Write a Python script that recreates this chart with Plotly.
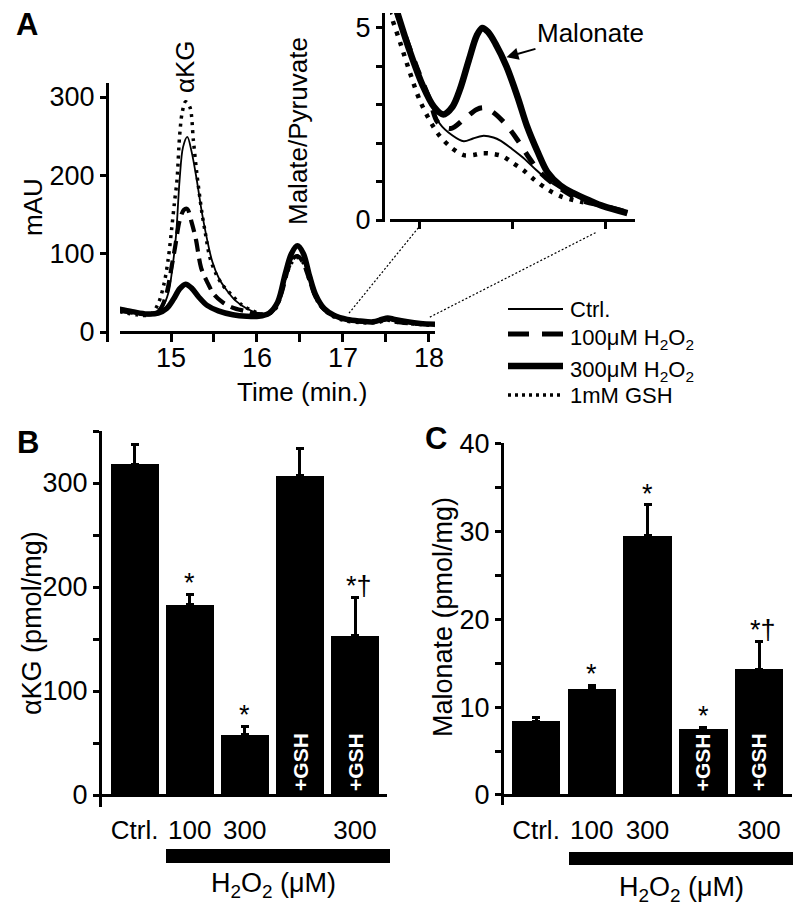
import plotly.graph_objects as go

W, H = 800, 910
FONT = "Liberation Sans, Arial, sans-serif"

# ---------------- Panel A: chromatogram (mAU vs time, min) ----------------
t_ctrl = [14.40, 14.60, 14.78, 14.90, 14.97, 15.02, 15.06, 15.10, 15.14, 15.19, 15.24, 15.30, 15.36,
          15.42, 15.48, 15.56, 15.65, 15.75, 15.88, 16.02, 16.15, 16.27, 16.36, 16.42, 16.47, 16.53,
          16.60, 16.68, 16.78, 16.90, 17.05, 17.25, 17.42, 17.52, 17.62, 17.80, 18.07]
v_ctrl = [27, 24, 24, 32, 50, 85, 125, 194, 236, 249, 230, 194, 152,
          118, 90, 68, 53, 40, 30, 24, 25, 45, 80, 95, 98, 92,
          72, 46, 30, 21, 16, 13, 14, 16, 13, 11, 9]

t_h100 = [14.40, 14.60, 14.78, 14.88, 14.95, 15.01, 15.05, 15.10, 15.15, 15.19, 15.24, 15.29, 15.35,
          15.42, 15.50, 15.60, 15.72, 15.85, 16.00, 16.15, 16.27, 16.36, 16.42, 16.47, 16.53, 16.60,
          16.68, 16.78, 16.90, 17.05, 17.25, 17.42, 17.52, 17.62, 17.80, 18.07]
v_h100 = [27, 24, 23, 30, 50, 85, 110, 142, 156, 157, 140, 118, 82,
          64, 48, 38, 31, 27, 23, 24, 45, 80, 94, 97, 90, 70,
          45, 29, 21, 16, 13, 14, 16, 13, 11, 9]

t_h300 = [14.40, 14.55, 14.72, 14.85, 14.95, 15.03, 15.10, 15.17, 15.24, 15.32, 15.42, 15.55, 15.72,
          15.88, 16.02, 16.14, 16.24, 16.33, 16.40, 16.47, 16.54, 16.61, 16.68, 16.78, 16.90, 17.05,
          17.20, 17.35, 17.45, 17.52, 17.60, 17.75, 17.90, 18.07]
v_h300 = [29, 26, 23, 24, 30, 42, 55, 61, 56, 45, 34, 27, 22,
          20, 20, 24, 38, 75, 100, 110, 100, 72, 48, 30, 21, 16,
          14, 13, 16, 18, 16, 13, 11, 10]

t_gsh = [14.40, 14.60, 14.76, 14.85, 14.92, 14.97, 15.01, 15.04, 15.07, 15.10, 15.13, 15.17, 15.22,
         15.26, 15.30, 15.36, 15.40, 15.45, 15.52, 15.60, 15.70, 15.82, 15.95, 16.10, 16.22, 16.32,
         16.40, 16.47, 16.54, 16.62, 16.72, 16.85, 17.00, 17.20, 17.40, 17.52, 17.65, 17.85, 18.07]
v_gsh = [26, 22, 22, 36, 62, 95, 134, 165, 194, 250, 280, 294, 287,
         245, 203, 152, 126, 96, 75, 60, 48, 35, 27, 22, 30, 65,
         88, 95, 88, 62, 36, 22, 15, 12, 12, 15, 12, 10, 8]

# Inset (zoom of the malonate region)
ti_ctrl = [16.88, 16.99, 17.06, 17.11, 17.18, 17.24, 17.29, 17.34, 17.40, 17.44, 17.50, 17.56,
           17.63, 17.69, 17.76, 17.83, 17.92, 18.00, 18.12]
vi_ctrl = [5.40, 3.95, 3.10, 2.52, 2.20, 2.05, 2.12, 2.19, 2.15, 2.06, 1.85, 1.62,
           1.30, 1.05, 0.82, 0.65, 0.48, 0.36, 0.20]

ti_h100 = [16.88, 16.99, 17.06, 17.10, 17.17, 17.24, 17.31, 17.35, 17.40, 17.47, 17.53, 17.60,
           17.66, 17.75, 17.87, 18.00, 18.12]
vi_h100 = [5.40, 3.95, 3.10, 2.55, 2.38, 2.62, 2.88, 2.92, 2.80, 2.47, 2.08, 1.56,
           1.20, 0.85, 0.52, 0.36, 0.20]

ti_h300 = [16.88, 16.95, 17.02, 17.08, 17.13, 17.18, 17.22, 17.27, 17.31, 17.34, 17.37, 17.41,
           17.47, 17.53, 17.58, 17.64, 17.69, 17.76, 17.83, 17.92, 17.99, 18.12]
vi_h300 = [5.45, 4.40, 3.50, 2.95, 2.75, 2.95, 3.40, 4.20, 4.80, 5.00, 4.90, 4.60,
           4.00, 3.20, 2.45, 1.75, 1.25, 0.90, 0.70, 0.50, 0.36, 0.18]

ti_gsh = [16.84, 16.90, 16.94, 17.01, 17.10, 17.17, 17.24, 17.30, 17.34, 17.40, 17.45, 17.50,
          17.56, 17.62, 17.69, 17.76, 17.83, 17.92]
vi_gsh = [5.45, 4.60, 4.00, 3.05, 2.26, 1.90, 1.69, 1.70, 1.74, 1.72, 1.66, 1.50,
          1.30, 1.05, 0.80, 0.62, 0.52, 0.42]

legend_labels = ["Ctrl.", "100μM H<sub>2</sub>O<sub>2</sub>", "300μM H<sub>2</sub>O<sub>2</sub>", "1mM GSH"]

# ---------------- Panel B / C: bar charts ----------------
bar_pos = [0, 1, 2, 3, 4]
label_pos = [0, 1, 2, 4]
label_text = ["Ctrl.", "100", "300", "300"]
akg_vals = [318, 183, 58, 307, 153]
akg_err_top = [337, 193, 66, 333, 190]
akg_sig = ["", "*", "*", "", "*†"]

mal_vals = [8.4, 12.1, 29.5, 7.5, 14.3]
mal_err_top = [8.8, 12.5, 33.0, 7.7, 17.5]
mal_sig = ["", "*", "*", "*", "*†"]
gsh_bars = [3, 4]


def fx(p):
    return p / W


def fy(p):
    return 1 - p / H


# axis geometry (pixel boxes)
A_X = dict(dom=(120, 435), rng=(14.407, 18.07))
A_Y = dict(dom=(342, 83), rng=(-12.77, 317.9))
I_X = dict(dom=(390, 635), rng=(16.844, 18.161))
I_Y = dict(dom=(222, 13), rng=(-0.052, 5.39))


def to_px(ax, v):
    (d0, d1), (r0, r1) = ax["dom"], ax["rng"]
    return d0 + (v - r0) / (r1 - r0) * (d1 - d0)


fig = go.Figure()

styles = {
    "gsh": dict(color="black", width=3.5, dash="3px,5px"),
    "ctrl": dict(color="black", width=1.8),
    "h100": dict(color="black", width=4.2, dash="13px,7px"),
    "h300": dict(color="black", width=5.5),
}
istyles = {
    "gsh": dict(color="black", width=4.5, dash="4px,7px"),
    "ctrl": dict(color="black", width=2),
    "h100": dict(color="black", width=5, dash="14px,12px"),
    "h300": dict(color="black", width=6.5),
}

for key, tx, vy in [("gsh", t_gsh, v_gsh), ("ctrl", t_ctrl, v_ctrl), ("h100", t_h100, v_h100), ("h300", t_h300, v_h300)]:
    fig.add_trace(go.Scatter(x=tx, y=vy, mode="lines", xaxis="x", yaxis="y",
                             line=dict(shape="spline", smoothing=0.9, **styles[key]), hoverinfo="skip"))

for key, tx, vy in [("gsh", ti_gsh, vi_gsh), ("ctrl", ti_ctrl, vi_ctrl), ("h100", ti_h100, vi_h100), ("h300", ti_h300, vi_h300)]:
    fig.add_trace(go.Scatter(x=tx, y=vy, mode="lines", xaxis="x2", yaxis="y2",
                             line=dict(shape="spline", smoothing=0.9, **istyles[key]), hoverinfo="skip"))

# bars
for xa, ya, vals, tops in [("x3", "y3", akg_vals, akg_err_top), ("x4", "y4", mal_vals, mal_err_top)]:
    fig.add_trace(go.Bar(x=bar_pos, y=vals, width=0.87, xaxis=xa, yaxis=ya,
                         marker=dict(color="black", line=dict(width=0)),
                         error_y=dict(type="data", symmetric=False,
                                      array=[t - v for t, v in zip(tops, vals)],
                                      arrayminus=[0] * len(vals),
                                      color="black", thickness=3, width=4)))

tick_font = dict(family=FONT, size=27, color="black")
common = dict(showline=True, linecolor="black", linewidth=3, showgrid=False, zeroline=False,
              tickcolor="black", tickwidth=3, tickfont=tick_font, automargin=False, fixedrange=True)


def minor(vals, ln):
    return dict(tickmode="array", tickvals=vals, ticks="outside", ticklen=ln, tickwidth=3,
                tickcolor="black", showgrid=False)


cat_axis = {**common, "tickcolor": "rgba(0,0,0,0)", "tickfont": dict(family=FONT, size=26, color="black")}

layout = dict(
    width=W, height=H, margin=dict(l=0, r=0, t=0, b=0),
    paper_bgcolor="white", plot_bgcolor="white", showlegend=False,
    font=dict(family=FONT, color="black"), bargap=0,
    xaxis=dict(domain=[fx(A_X["dom"][0]), fx(A_X["dom"][1])], range=list(A_X["rng"]),
               anchor="free", position=fy(to_px(A_Y, 0)), ticks="outside", ticklen=8,
               tickvals=[15, 16, 17, 18], minor=minor([15.5, 16.5, 17.5], 8),
               ticklabelstandoff=-7, **common),
    yaxis=dict(domain=[fy(A_Y["dom"][0]), fy(A_Y["dom"][1])], range=list(A_Y["rng"]),
               anchor="free", position=fx(107), ticks="outside", ticklen=6,
               tickvals=[0, 100, 200, 300], **common),
    xaxis2=dict(domain=[fx(I_X["dom"][0]), fx(I_X["dom"][1])], range=list(I_X["rng"]),
                anchor="free", position=fy(to_px(I_Y, 0)), ticks="outside", ticklen=7,
                tickvals=[17, 17.5, 18], showticklabels=False, **common),
    yaxis2=dict(domain=[fy(I_Y["dom"][0]), fy(I_Y["dom"][1])], range=list(I_Y["rng"]),
                anchor="free", position=fx(383), ticks="outside", ticklen=6,
                tickvals=[0, 5], minor=minor([1, 2, 3, 4], 6), **common),
    xaxis3=dict(domain=[fx(100), fx(387)], range=[-0.627, 4.58], anchor="free", position=fy(795),
                ticks="outside", ticklen=11, tickvals=label_pos, ticktext=label_text, **cat_axis),
    yaxis3=dict(domain=[fy(807), fy(431)], range=[-11.5, 350], anchor="free", position=fx(100),
                ticks="outside", ticklen=6, tickvals=[0, 100, 200, 300],
                minor=minor([50, 150, 250, 350], 6), **common),
    xaxis4=dict(domain=[fx(502), fx(792)], range=[-0.61, 4.59], anchor="free", position=fy(795),
                ticks="outside", ticklen=11, tickvals=label_pos, ticktext=label_text, **cat_axis),
    yaxis4=dict(domain=[fy(805), fy(443)], range=[-1.14, 40.05], anchor="free", position=fx(502),
                ticks="outside", ticklen=6, tickvals=[0, 10, 20, 30, 40],
                minor=minor([5, 15, 25, 35], 6), **common),
)
fig.update_layout(**layout)

ann = []
shapes = []


def txt(x, y, s, size=26, angle=0, bold=False, color="black", xanchor="center", yanchor="middle"):
    ann.append(dict(x=fx(x), y=fy(y), xref="paper", yref="paper", text=(f"<b>{s}</b>" if bold else s),
                    showarrow=False, textangle=angle, xanchor=xanchor, yanchor=yanchor,
                    font=dict(family=FONT, size=size, color=color)))


# panel letters
txt(27, 24, "A", size=31, bold=True)
txt(28, 442, "B", size=31, bold=True)
txt(436, 438, "C", size=31, bold=True)

# panel A texts
txt(33, 207, "mAU", size=26, angle=-90)
txt(302, 392, "Time (min.)", size=26)
txt(185, 67, "αKG", size=26, angle=-90)
txt(298, 131, "Malate/Pyruvate", size=26, angle=-90)

ann.append(dict(x=17.47, y=4.24, xref="x2", yref="y2", text="Malonate", showarrow=True,
                ax=84, ay=-24, arrowhead=2, arrowsize=1.2, arrowwidth=2, arrowcolor="black",
                font=dict(family=FONT, size=26, color="black")))

# connector lines main -> inset
for (tm, vm), (ti, vi) in [((17.07, 24), (17.0, -0.18)), ((18.01, 19), (17.957, -0.31))]:
    shapes.append(dict(type="line", xref="paper", yref="paper",
                       x0=fx(to_px(A_X, tm)), y0=fy(to_px(A_Y, vm)),
                       x1=fx(to_px(I_X, ti)), y1=fy(to_px(I_Y, vi)),
                       line=dict(color="black", width=1.2, dash="2px,2px")))

# legend
leg_y = [309, 334, 366, 395]
leg_styles = [dict(color="black", width=1.8), dict(color="black", width=5, dash="21px,13px"),
              dict(color="black", width=6.5), dict(color="black", width=3.5, dash="3px,4px")]
for yy, lab, st in zip(leg_y, legend_labels, leg_styles):
    shapes.append(dict(type="line", xref="paper", yref="paper", x0=fx(508), x1=fx(563),
                       y0=fy(yy), y1=fy(yy), line=st))
    if "sub" in lab:
        ann.append(dict(x=fx(568), y=fy(yy - 11), xref="paper", yref="paper", text=lab, showarrow=False,
                        xanchor="left", yanchor="top", font=dict(family=FONT, size=22, color="black")))
    else:
        txt(568, yy, lab, size=22, xanchor="left")

# panel B / C texts
txt(32, 623, "αKG (pmol/mg)", size=27, angle=-90)
txt(443, 617, "Malonate (pmol/mg)", size=27, angle=-90)
txt(273, 885, "H<sub>2</sub>O<sub>2</sub> (μM)", size=27)
txt(681, 889, "H<sub>2</sub>O<sub>2</sub> (μM)", size=27)
shapes.append(dict(type="rect", xref="paper", yref="paper", x0=fx(166), x1=fx(390), y0=fy(863), y1=fy(849),
                   fillcolor="black", line=dict(width=0)))
shapes.append(dict(type="rect", xref="paper", yref="paper", x0=fx(569), x1=fx(793), y0=fy(865), y1=fy(852),
                   fillcolor="black", line=dict(width=0)))

for xa, ya, tops, sig in [("x3", "y3", akg_err_top, akg_sig), ("x4", "y4", mal_err_top, mal_sig)]:
    for i, (tp, s) in enumerate(zip(tops, sig)):
        if s:
            ann.append(dict(x=i + (0.07 if len(s) > 1 else 0), y=tp, xref=xa, yref=ya, text=s, showarrow=False,
                            xanchor="center", yanchor="bottom", yshift=-6,
                            font=dict(family=FONT, size=27, color="black")))
    for i in gsh_bars:
        ann.append(dict(x=i, y=0, xref=xa, yref=ya, text="<b>+GSH</b>", showarrow=False, textangle=-90,
                        xanchor="center", yanchor="bottom", yshift=2,
                        font=dict(family=FONT, size=21, color="white")))

fig.update_layout(annotations=ann, shapes=shapes)
fig.write_html("out.html")
